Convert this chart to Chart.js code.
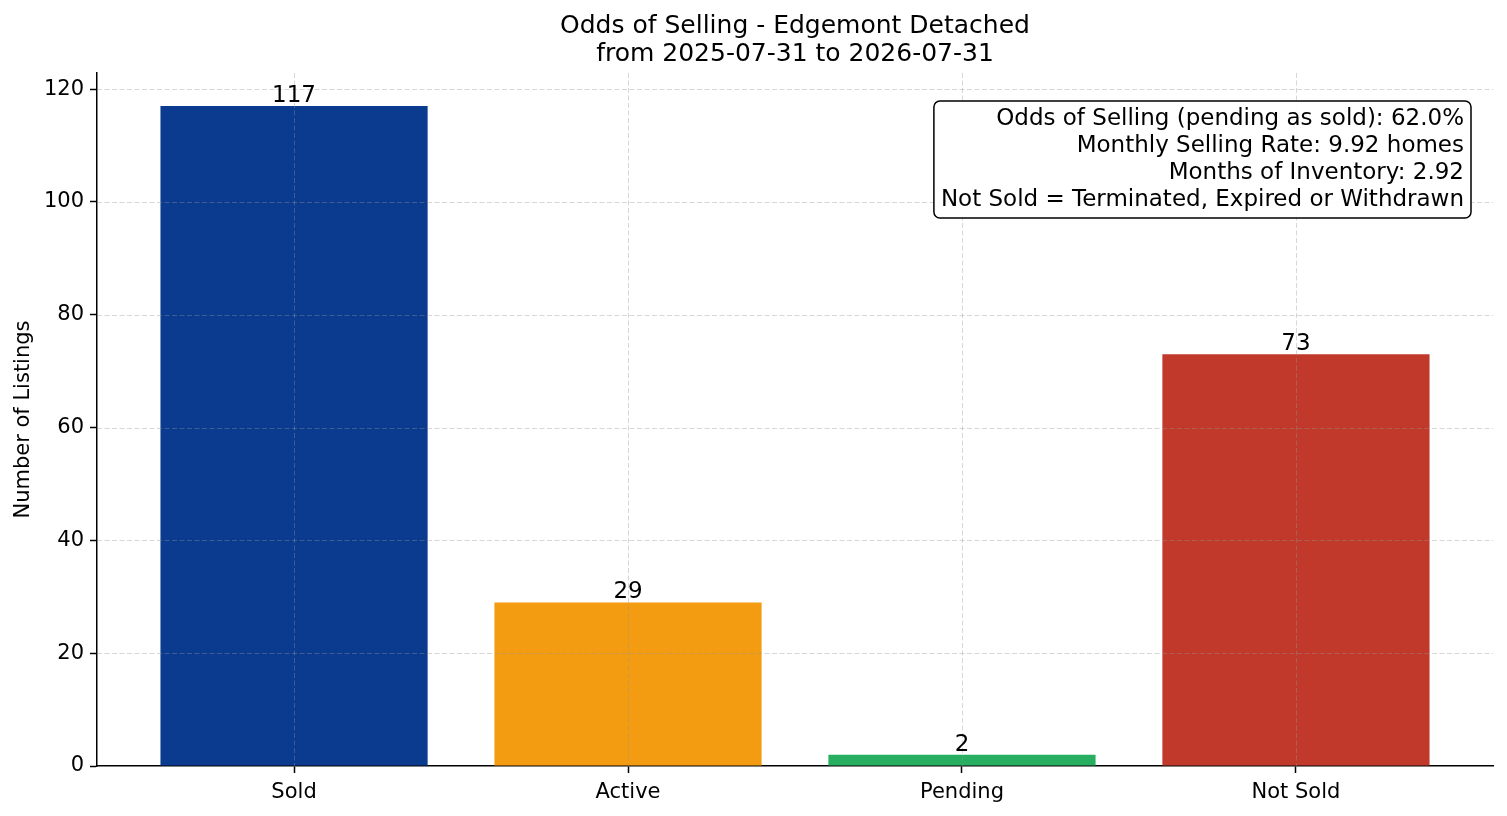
<!DOCTYPE html>
<html>
<head>
<meta charset="utf-8">
<script src="https://cdn.jsdelivr.net/npm/chart.js@4.4.1/dist/chart.umd.min.js"></script>
<style>
  html, body { margin: 0; padding: 0; background: #fff; }
  #wrap { width: 1507px; height: 816px; }
</style>
</head>
<body>
<div id="wrap"><canvas id="chart"></canvas></div>
<script>
'use strict'
const categories = ['Sold', 'Active', 'Pending', 'Not Sold']
const listings = [117, 29, 2, 73]
const barColors = ['#0b3b8f', '#f39c12', '#27ae60', '#c0392b']
const yTicks = [0, 20, 40, 60, 80, 100, 120]
const titleLines = ['Odds of Selling - Edgemont Detached', 'from 2025-07-31 to 2026-07-31']
const noteLines = [
  'Odds of Selling (pending as sold): 62.0%',
  'Monthly Selling Rate: 9.92 homes',
  'Months of Inventory: 2.92',
  'Not Sold = Terminated, Expired or Withdrawn',
]

const FONT = 'DejaVu Sans'
const ctx = document.getElementById('chart').getContext('2d')

// grid drawn on top of the bars, like the original
const overlay = {
  id: 'overlay',
  afterDatasetsDraw(chart) {
    const c = chart.ctx
    const a = chart.chartArea
    const xs = chart.scales.x
    const ys = chart.scales.y
    c.save()
    c.beginPath()
    c.rect(a.left, a.top, a.right - a.left, a.bottom - a.top)
    c.clip()
    c.strokeStyle = 'rgba(150,150,150,0.38)'
    c.lineWidth = 1
    c.setLineDash([5, 2.5])
    xs.ticks.forEach(t => {
      const x = Math.round(xs.getPixelForValue(t.value)) + 0.5
      c.beginPath(); c.moveTo(x, a.top); c.lineTo(x, a.bottom); c.stroke()
    })
    ys.ticks.forEach(t => {
      const y = Math.round(ys.getPixelForValue(t.value)) + 0.5
      c.beginPath(); c.moveTo(a.left, y); c.lineTo(a.right, y); c.stroke()
    })
    c.restore()

    // value labels
    c.save()
    c.font = '23px "' + FONT + '"'
    c.fillStyle = '#000'
    c.textAlign = 'center'
    c.textBaseline = 'alphabetic'
    chart.getDatasetMeta(0).data.forEach((bar, i) => {
      c.fillText(String(listings[i]), bar.x, bar.y - 4)
    })
    c.restore()

    // note box
    c.save()
    c.font = '23px "' + FONT + '"'
    const lh = 27
    const right = a.right - 29
    const top = a.top + 28
    const w = Math.max(...noteLines.map(s => c.measureText(s).width))
    const bx = right - w - 7
    const bw = w + 14
    const bh = lh * noteLines.length + 9
    c.beginPath()
    c.roundRect(bx, top, bw, bh, 6)
    c.fillStyle = 'rgba(255,255,255,0.92)'
    c.fill()
    c.lineWidth = 1.5
    c.strokeStyle = '#000'
    c.stroke()
    c.fillStyle = '#000'
    c.textAlign = 'right'
    c.textBaseline = 'middle'
    noteLines.forEach((s, i) => c.fillText(s, right, top + 18 + i * lh))
    c.restore()
  },
  afterDraw(chart) {
    const c = chart.ctx
    const a = chart.chartArea
    c.save()
    c.font = '25px "' + FONT + '"'
    c.fillStyle = '#000'
    c.textAlign = 'center'
    c.textBaseline = 'middle'
    const cx = (a.left + a.right) / 2
    titleLines.forEach((s, i) => c.fillText(s, cx, 26 + i * 28))
    c.restore()
  },
}

const tickFont = { family: FONT, size: 21 }

const data = {
  datasets: [
    {
      data: listings.map((v, i) => ({ x: i, y: v })),
      backgroundColor: barColors,
      borderWidth: 0,
      barPercentage: 0.8,
      categoryPercentage: 1,
    },
  ],
}

const config = {
  type: 'bar',
  data: data,
  options: {
    responsive: true,
    maintainAspectRatio: false,
    animation: false,
    layout: { padding: { top: 73, right: 14, left: 0, bottom: 0 } },
    plugins: {
      legend: { display: false },
      title: { display: false },
      tooltip: { enabled: false },
    },
    scales: {
      x: {
        type: 'linear',
        min: -0.59,
        max: 3.59,
        offset: false,
        afterBuildTicks: s => { s.ticks = categories.map((c, i) => ({ value: i })) },
        afterFit: s => { s.height = 50 },
        grid: {
          offset: false,
          drawOnChartArea: false,
          drawTicks: true,
          tickLength: 7,
          tickColor: '#000',
          tickWidth: 1.5,
        },
        border: { display: true, color: '#000', width: 1.5 },
        ticks: {
          callback: v => categories[v],
          font: tickFont,
          color: '#000',
          padding: 7,
          autoSkip: false,
          maxRotation: 0,
        },
      },
      y: {
        min: 0,
        max: 122.85,
        afterBuildTicks: s => { s.ticks = yTicks.map(v => ({ value: v })) },
        afterFit: s => { s.width = 97 },
        grid: {
          drawOnChartArea: false,
          drawTicks: true,
          tickLength: 7,
          tickColor: '#000',
          tickWidth: 1.5,
        },
        border: { display: true, color: '#000', width: 1.5 },
        ticks: { font: tickFont, color: '#000', padding: 6 },
        title: {
          display: true,
          text: 'Number of Listings',
          font: tickFont,
          color: '#000',
          padding: { top: 11, bottom: 0 },
        },
      },
    },
  },
  plugins: [overlay],
}

const chart = new Chart(ctx, config)
</script>
</body>
</html>
